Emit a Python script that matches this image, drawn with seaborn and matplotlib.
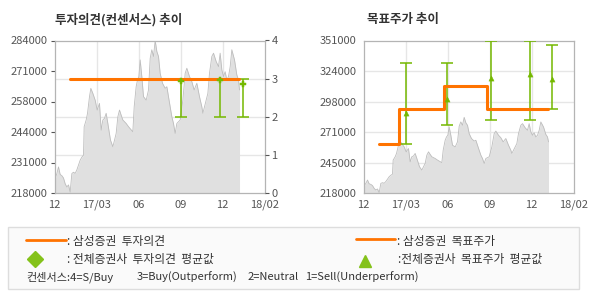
import numpy as np
import pandas as pd
import matplotlib
matplotlib.use("Agg")
import matplotlib.pyplot as plt
import seaborn as sns

# ---------------- data ----------------
xtick_labels = ["12", "17/03", "06", "09", "12", "18/02"]

# time in tick-slot units (0 = Dec 2016, 5 = Feb 2018)
price_t = [0.000, 0.056, 0.095, 0.135, 0.175, 0.214, 0.254, 0.294, 0.333, 0.373,
           0.413, 0.452, 0.492, 0.532, 0.611, 0.651, 0.690, 0.706, 0.754, 0.786,
           0.833, 0.865, 0.913, 0.968, 1.016, 1.071, 1.111, 1.151, 1.190, 1.230,
           1.270, 1.333, 1.389, 1.429, 1.468, 1.508, 1.548, 1.587, 1.627, 1.706,
           1.762, 1.865, 1.897, 1.944, 1.976, 2.008, 2.040, 2.079, 2.119, 2.183,
           2.238, 2.278, 2.317, 2.357, 2.397, 2.437, 2.476, 2.516, 2.571, 2.635,
           2.675, 2.714, 2.754, 2.794, 2.833, 2.873, 2.913, 2.992, 3.056, 3.111,
           3.151, 3.214, 3.270, 3.325, 3.389, 3.452, 3.508, 3.532, 3.571, 3.611,
           3.651, 3.690, 3.746, 3.786, 3.849, 3.905, 3.944, 3.984, 4.024, 4.063,
           4.103, 4.143, 4.183, 4.222, 4.286, 4.341, 4.381, 4.405]
price = [223500, 226400, 229300, 226000, 225500, 224500, 222000, 220600, 221500, 218400,
         226400, 227000, 226500, 228000, 232200, 233500, 234400, 246700, 249600, 252500,
         259700, 263300, 261100, 258200, 253900, 256800, 245200, 249600, 250300, 252500,
         248100, 240900, 238000, 240900, 243800, 251000, 253900, 251700, 249600, 248100,
         246700, 244500, 255300, 264000, 266900, 268400, 275600, 268400, 259700, 258200,
         262600, 276300, 280000, 277100, 284000, 279200, 277100, 269800, 265500, 263300,
         264000, 259700, 255300, 251000, 248100, 243800, 248100, 249600, 258200, 269800,
         272000, 268400, 266200, 262600, 265500, 259700, 255300, 252500, 255300, 258200,
         261100, 269800, 277100, 278500, 274900, 272700, 278500, 271300, 268400, 270500,
         266900, 268400, 272700, 280000, 275600, 269100, 266900, 262600]
price = price[:len(price_t)]

# left chart: investment opinion (0-4 scale)
opinion_t = [0.38, 4.40]
opinion = [3, 3]
op_est_t = [3.02, 3.95, 4.48]
op_est_mean = [2.93, 2.97, 2.85]
op_est_hi = [3, 3, 3]
op_est_lo = [2, 2, 2]

# right chart: target price
target_t = [0.38, 0.85, 1.91, 2.95, 4.39]
target = [261000, 291000, 311000, 291000, 291000]
tp_est_t = [1.01, 1.98, 3.03, 3.96, 4.49]
tp_est_mean = [288000, 300000, 318000, 322000, 317000]
tp_est_hi = [331000, 331000, 351000, 351000, 347000]
tp_est_lo = [261000, 277000, 281500, 281500, 291500]

left_range = (218000, 284000)
right_range = (218000, 351000)

# ---------------- style ----------------
sns.set_theme(style="white")
plt.rcParams["font.family"] = ["Noto Sans CJK KR", "DejaVu Sans"]

ORANGE = "#ff7300"
GREEN = "#74b800"
GRID = "#e6e6e6"
SPINE = "#b4b4b4"
TXT = "#555555"
FILL = "#e0e0e0"
EDGE = "#bdbdbd"

fig = plt.figure(figsize=(5.9, 3.0), dpi=100)
W, H = 590, 300

def axes_px(x0, y0, x1, y1):
    return fig.add_axes([x0 / W, 1 - y1 / H, (x1 - x0) / W, (y1 - y0) / H])

df = pd.DataFrame({"t": price_t, "price": price})

def style_price_axes(ax, lo, hi):
    ax.set_xlim(0, 5)
    ax.set_ylim(lo, hi)
    ax.set_xticks(range(6))
    ax.set_xticklabels(xtick_labels)
    ticks = np.linspace(lo, hi, 6)
    ax.set_yticks(ticks)
    ax.set_yticklabels([f"{int(round(v / 1000.0) * 1000)}" for v in ticks])
    ax.tick_params(axis="both", labelsize=8, colors=TXT, length=3, width=0.8,
                   direction="out", pad=2)
    for s in ax.spines.values():
        s.set_color(SPINE)
        s.set_linewidth(0.9)
    ax.set_xlabel("")
    ax.set_ylabel("")
    for x in range(1, 5):
        ax.axvline(x, color=GRID, lw=1.0, zorder=0)

def draw_price(ax, lo):
    ax.fill_between(df["t"], lo, df["price"], color=FILL, lw=0, zorder=1)
    sns.lineplot(data=df, x="t", y="price", ax=ax, color=EDGE, lw=0.6, zorder=2)

# ---------- left chart ----------
axL = axes_px(54.5, 40.5, 264.5, 193)
draw_price(axL, left_range[0])
style_price_axes(axL, *left_range)
for v in np.linspace(left_range[0], left_range[1], 5)[1:-1]:
    axL.axhline(v, color=GRID, lw=1.0, zorder=0)

axR = axL.twinx()
axR.set_ylim(0, 4)
axR.set_yticks([0, 1, 2, 3, 4])
axR.tick_params(axis="y", labelsize=8, colors=TXT, length=3, width=0.8, pad=2)
for s in axR.spines.values():
    s.set_visible(False)
sns.lineplot(x=opinion_t, y=opinion, ax=axR, color=ORANGE, lw=2.2, zorder=5)
axR.errorbar(op_est_t, op_est_mean,
             yerr=[np.subtract(op_est_mean, op_est_lo), np.subtract(op_est_hi, op_est_mean)],
             fmt="none", ecolor=GREEN, elinewidth=1.1, capsize=4.5, capthick=1.1, zorder=4)
sns.scatterplot(x=op_est_t, y=op_est_mean, ax=axR, marker="P", s=18, color=GREEN,
                edgecolor=GREEN, zorder=6)
axR.set_ylabel("")

# ---------- right chart ----------
ax2 = axes_px(363.5, 40.5, 573.5, 193)
draw_price(ax2, right_range[0])
style_price_axes(ax2, *right_range)
for v in np.linspace(right_range[0], right_range[1], 6)[1:-1]:
    ax2.axhline(v, color=GRID, lw=1.0, zorder=0)
ax2.errorbar(tp_est_t, tp_est_mean,
             yerr=[np.subtract(tp_est_mean, tp_est_lo), np.subtract(tp_est_hi, tp_est_mean)],
             fmt="none", ecolor=GREEN, elinewidth=1.1, capsize=4.5, capthick=1.1, zorder=4)
ax2.step(target_t, target, where="post", color=ORANGE, lw=2.2, zorder=5)
sns.scatterplot(x=tp_est_t, y=tp_est_mean, ax=ax2, marker="^", s=14, color=GREEN,
                edgecolor=GREEN, zorder=6)
ax2.set_xlabel("")
ax2.set_ylabel("")

# ---------- titles ----------
fig.text(55 / W, 1 - 20 / H, "투자의견(컨센서스) 추이", fontsize=9, fontweight="bold",
         color="#333333", va="center", ha="left")
fig.text(367 / W, 1 - 20 / H, "목표주가 추이", fontsize=9, fontweight="bold",
         color="#333333", va="center", ha="left")

# ---------- legend box ----------
box = plt.Rectangle((8 / W, 1 - 289 / H), 571 / W, 62 / H, transform=fig.transFigure,
                    facecolor="#fafafa", edgecolor="#dddddd", lw=1.0)
fig.patches.append(box)
lt = "#333333"
LFS = 8.5

def ftxt(x, y, s, fs=LFS):
    fig.text(x / W, 1 - y / H, s, fontsize=fs, color=lt, va="center", ha="left")

fig.lines.append(plt.Line2D([26 / W, 66 / W], [1 - 240 / H] * 2, transform=fig.transFigure,
                            color=ORANGE, lw=2.0))
ftxt(67, 241, ": 삼성증권  투자의견")
fig.lines.append(plt.Line2D([35 / W], [1 - 259 / H], transform=fig.transFigure, marker="D",
                            markersize=8, color="#84c21a", lw=0))
ftxt(67, 259, ": 전체증권사  투자의견  평균값")
ftxt(26, 277, "컨센서스:4=S/Buy", 8.0)
ftxt(137, 277, "3=Buy(Outperform)", 8.0)
ftxt(248, 277, "2=Neutral", 8.0)
ftxt(305, 277, "1=Sell(Underperform)", 8.0)

fig.lines.append(plt.Line2D([356 / W, 395 / W], [1 - 239 / H] * 2, transform=fig.transFigure,
                            color=ORANGE, lw=2.0))
ftxt(397, 241, ": 삼성증권  목표주가")
fig.lines.append(plt.Line2D([365 / W], [1 - 261 / H], transform=fig.transFigure, marker="^",
                            markersize=8, color="#84c21a", lw=0))
ftxt(398, 259, ":전체증권사  목표주가  평균값")

fig.savefig("out.png", dpi=100)
